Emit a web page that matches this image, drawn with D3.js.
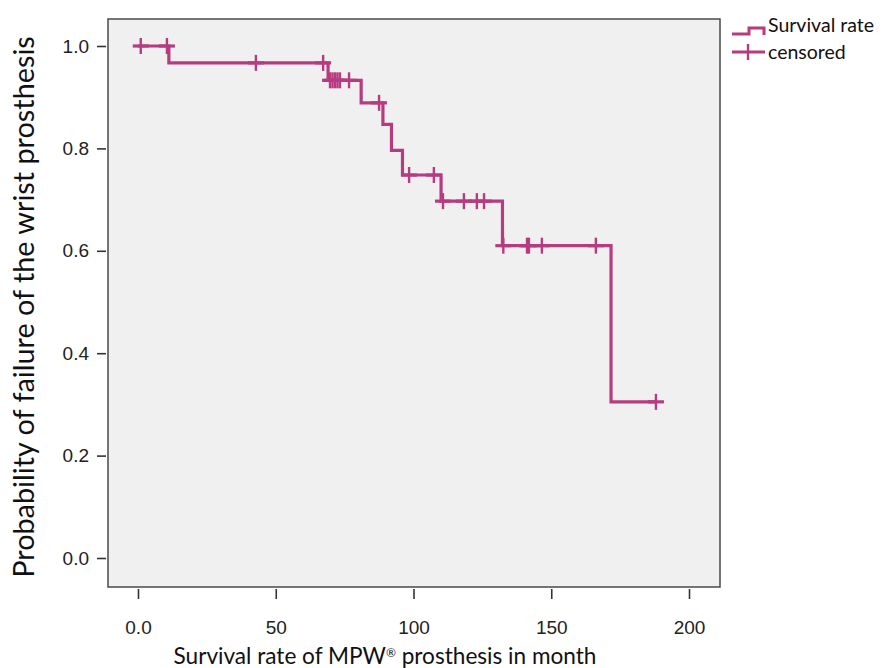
<!DOCTYPE html>
<html>
<head>
<meta charset="utf-8">
<script src="https://cdn.jsdelivr.net/npm/d3@7"></script>
<style>
  body { margin: 0; background: #fff; }
  svg { display: block; font-family: Lato, "Open Sans", sans-serif; }
</style>
</head>
<body>
<div id="chart"></div>
<script>
// Kaplan-Meier steps
const eventTimes = [0, 11.2, 69, 81, 88.9, 92, 96, 110, 132.3, 171.7];
const survival   = [1.0, 0.967, 0.933, 0.889, 0.847, 0.796, 0.748, 0.697, 0.61, 0.305];
const endTime = 188;
const censorTimes = [1, 10.5, 42.8, 67.2, 69.7, 70.6, 71.5, 72.4, 73.3, 76.6, 87.5,
                     98.4, 107.4, 110.7, 118.3, 123, 125.6, 132.6, 141.2, 141.9, 146.6, 166.2, 188];
const xTicks = [0, 50, 100, 150, 200];
const yTicks = [0, 0.2, 0.4, 0.6, 0.8, 1.0];

const W = 885, H = 668;
const frame = { x0: 108, x1: 720, y0: 19, y1: 587 };
const curveColor = "#b63b7f";

const svg = d3.select("#chart").append("svg")
  .attr("width", W)
  .attr("height", H);

const x = d3.scaleLinear().domain([0, 200]).range([138, 689]);
const y = d3.scaleLinear().domain([0, 1]).range([558, 46]);

// plot background + frame
svg.append("rect")
  .attr("x", frame.x0)
  .attr("y", frame.y0)
  .attr("width", frame.x1 - frame.x0)
  .attr("height", frame.y1 - frame.y0)
  .style("fill", "#f0f0f0")
  .style("stroke", "#4a4a4a")
  .style("stroke-width", 1.5);

// axes
const xAxis = svg.append("g")
  .attr("transform", `translate(0,${frame.y1 + 2})`)
  .call(d3.axisBottom(x).tickValues(xTicks).tickSize(10).tickSizeOuter(0)
    .tickFormat(d => d === 0 ? "0.0" : d3.format("d")(d)));
xAxis.select(".domain").remove();
xAxis.selectAll(".tick line").style("stroke", "#333").style("stroke-width", 1.6);
xAxis.selectAll(".tick text")
  .attr("y", 38)
  .attr("dy", "0.35em")
  .style("font-size", "19px")
  .style("fill", "#222");

const yAxis = svg.append("g")
  .attr("transform", `translate(${frame.x0 - 2},0)`)
  .call(d3.axisLeft(y).tickValues(yTicks).tickSize(9).tickSizeOuter(0)
    .tickFormat(d3.format(".1f")));
yAxis.select(".domain").remove();
yAxis.selectAll(".tick line").style("stroke", "#333").style("stroke-width", 1.6);
yAxis.selectAll(".tick text")
  .attr("x", -17)
  .style("font-size", "19px")
  .style("fill", "#222");

// axis titles
const xTitle = svg.append("text")
  .attr("x", 385)
  .attr("y", 664)
  .attr("text-anchor", "middle")
  .style("font-size", "22.6px")
  .style("fill", "#111");
xTitle.append("tspan").text("Survival rate of MPW");
xTitle.append("tspan")
  .attr("baseline-shift", "super")
  .style("font-size", "12px")
  .text("\u00AE");
xTitle.append("tspan").text(" prosthesis in month");

svg.append("text")
  .attr("transform", "translate(34,307) rotate(-90)")
  .attr("text-anchor", "middle")
  .style("font-size", "28.8px")
  .style("fill", "#111")
  .text("Probability of failure of the wrist prosthesis");

// step curve
const stepPts = eventTimes.map((t, i) => [t, survival[i]]);
stepPts.push([endTime, survival[survival.length - 1]]);
const stepLine = d3.line()
  .x(d => x(d[0]))
  .y(d => y(d[1]))
  .curve(d3.curveStepAfter);

svg.append("path")
  .datum(stepPts)
  .attr("d", stepLine)
  .style("fill", "none")
  .style("stroke", curveColor)
  .style("stroke-width", 3.2);

// censor marks
const survAt = t => {
  let s = survival[0];
  eventTimes.forEach((e, i) => { if (e <= t) s = survival[i]; });
  return s;
};

const marks = svg.append("g")
  .selectAll("g")
  .data(censorTimes)
  .enter().append("g")
  .attr("transform", d => `translate(${x(d)},${y(survAt(d))})`);
marks.append("line")
  .attr("x1", -8).attr("x2", 8).attr("y1", 0).attr("y2", 0)
  .style("stroke", curveColor).style("stroke-width", 3.2);
marks.append("line")
  .attr("x1", 0).attr("x2", 0).attr("y1", -8).attr("y2", 8)
  .style("stroke", curveColor).style("stroke-width", 2.4);

// legend
const legend = svg.append("g");
legend.append("path")
  .attr("d", "M732,34H749V28H764V35")
  .style("fill", "none")
  .style("stroke", curveColor)
  .style("stroke-width", 3);
legend.append("text")
  .attr("x", 768)
  .attr("y", 25)
  .attr("dy", "0.35em")
  .style("font-size", "19.5px")
  .style("fill", "#111")
  .text("Survival rate");
legend.append("line")
  .attr("x1", 732).attr("x2", 765).attr("y1", 52).attr("y2", 52)
  .style("stroke", curveColor).style("stroke-width", 3);
legend.append("line")
  .attr("x1", 748).attr("x2", 748).attr("y1", 44).attr("y2", 60)
  .style("stroke", curveColor).style("stroke-width", 2.4);
legend.append("text")
  .attr("x", 768)
  .attr("y", 52)
  .attr("dy", "0.35em")
  .style("font-size", "19.5px")
  .style("fill", "#111")
  .text("censored");
</script>
</body>
</html>
